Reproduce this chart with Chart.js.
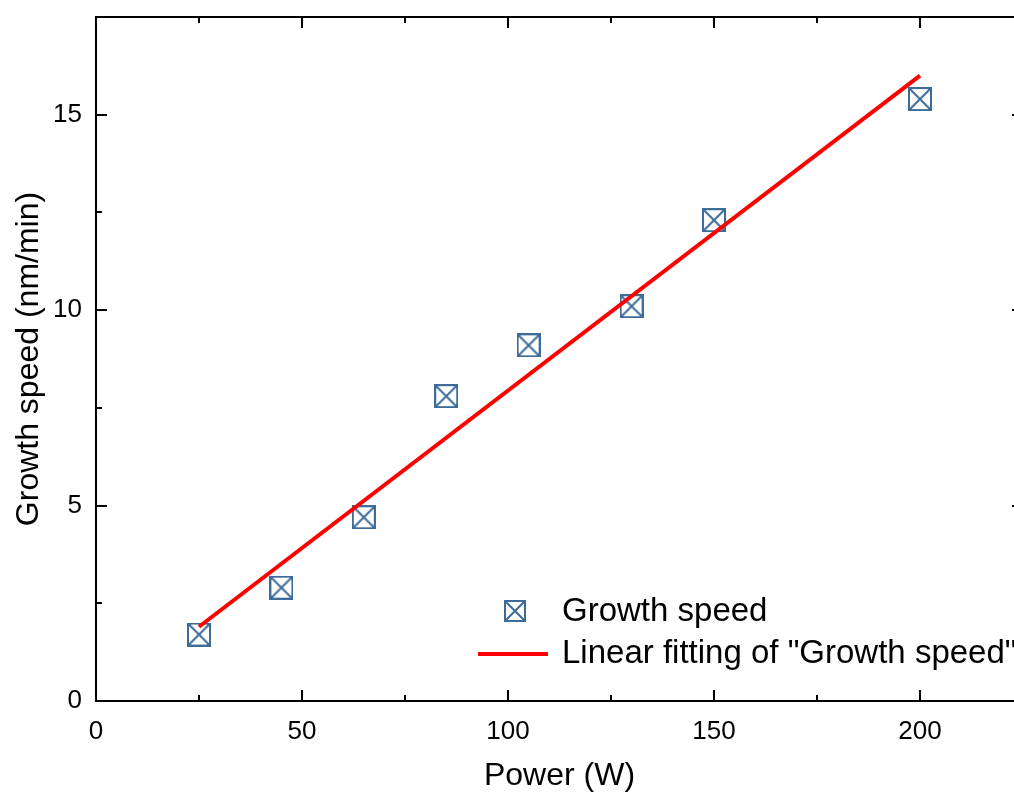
<!DOCTYPE html>
<html>
<head>
<meta charset="utf-8">
<script src="https://cdn.jsdelivr.net/npm/chart.js@4/dist/chart.umd.min.js"></script>
<style>
  html, body { margin: 0; padding: 0; background: #fff; overflow: hidden; }
  canvas { display: block; }
</style>
</head>
<body>
<canvas id="chart" width="1030" height="796"></canvas>
<script>
// growth speed vs power

const power = [25, 45, 65, 85, 105, 130, 150, 200];
const speed = [1.7, 2.9, 4.7, 7.8, 9.1, 10.1, 12.3, 15.4];
// fitted line end points
const fitX = [25, 200];
const fitY = [1.9, 16.0];
const xTicks = [0, 50, 100, 150, 200];
const yTicks = [0, 5, 10, 15];
const seriesLabel = 'Growth speed';
const fitLabel = 'Linear fitting of "Growth speed"';

const blue = '#3d6c99';
const red = '#ff0000';
const FONT = '"Liberation Sans", Arial, sans-serif';

// crossed square marker
function crossBox(size, lw) {
  const c = document.createElement('canvas');
  c.width = size; c.height = size;
  const g = c.getContext('2d');
  g.strokeStyle = blue;
  g.lineWidth = lw;
  const a = lw / 2, b = size - lw / 2;
  g.strokeRect(a, a, b - a, b - a);
  g.beginPath();
  g.moveTo(a, a); g.lineTo(b, b);
  g.moveTo(b, a); g.lineTo(a, b);
  g.stroke();
  return c;
}
const marker = crossBox(24, 2);
const legendMarker = crossBox(22, 2);

const scatterPts = power.map((p, i) => ({x: p, y: speed[i]}));
const fitPts = fitX.map((p, i) => ({x: p, y: fitY[i]}));

// inward ticks on all four sides + top/right frame + legend
const frame = {
  id: 'frame',
  afterDraw(chart) {
    const ctx = chart.ctx;
    const a = chart.chartArea;
    const xs = chart.scales.x, ys = chart.scales.y;
    ctx.save();
    ctx.strokeStyle = '#000';
    ctx.lineWidth = 2;
    ctx.beginPath();
    ctx.moveTo(a.left - 1, a.top);
    ctx.lineTo(a.right, a.top);
    ctx.lineTo(a.right, a.bottom);
    ctx.stroke();
    ctx.beginPath();
    for (let v = xs.min; v <= xs.max + 1e-9; v += 25) {
      const px = Math.round(xs.getPixelForValue(v));
      const len = (v % 50 === 0) ? 11 : 6;
      ctx.moveTo(px, a.bottom); ctx.lineTo(px, a.bottom - len);
      ctx.moveTo(px, a.top); ctx.lineTo(px, a.top + len);
    }
    for (let v = ys.min; v <= ys.max + 1e-9; v += 2.5) {
      const py = Math.round(ys.getPixelForValue(v));
      const len = (v % 5 === 0) ? 11 : 6;
      ctx.moveTo(a.left, py); ctx.lineTo(a.left + len, py);
      ctx.moveTo(a.right, py); ctx.lineTo(a.right - len, py);
    }
    ctx.stroke();

    // legend
    const ds = chart.data.datasets;
    ctx.font = '33px ' + FONT;
    ctx.fillStyle = '#000';
    ctx.textBaseline = 'middle';
    ctx.drawImage(legendMarker, 504, 600);
    ctx.fillText(ds[1].label, 562, 612);
    ctx.strokeStyle = red;
    ctx.lineWidth = 4;
    ctx.beginPath();
    ctx.moveTo(478, 654); ctx.lineTo(548, 654);
    ctx.stroke();
    ctx.fillText(ds[0].label, 562, 654);
    ctx.restore();
  }
};

const ctx = document.getElementById('chart').getContext('2d');
const myChart = new Chart(ctx, {
  type: 'scatter',
  data: {
    datasets: [{
      type: 'line',
      label: fitLabel,
      data: fitPts,
      borderColor: red,
      borderWidth: 4,
      pointRadius: 0,
      order: 0
    }, {
      label: seriesLabel,
      data: scatterPts,
      pointStyle: marker,
      pointRadius: 12,
      order: 1
    }]
  },
  options: {
    responsive: false,
    animation: false,
    layout: { autoPadding: false, padding: { top: 17, right: 7, bottom: 0, left: 0 } },
    plugins: { legend: { display: false }, tooltip: { enabled: false } },
    scales: {
      x: {
        type: 'linear',
        min: 0, max: 225,
        afterBuildTicks: s => { s.ticks = xTicks.map(v => ({value: v})); },
        afterFit: s => { s.height = 95; s.paddingLeft = 0; s.paddingRight = 0; },
        grid: { display: false, drawTicks: false },
        border: { display: true, color: '#000', width: 2 },
        ticks: { color: '#000', padding: 15, font: { family: FONT, size: 26 } },
        title: {
          display: true, text: 'Power (W)', color: '#000',
          font: { family: FONT, size: 32 }, padding: { top: 0, bottom: 1 }
        }
      },
      y: {
        type: 'linear',
        min: 0, max: 17.5,
        afterBuildTicks: s => { s.ticks = yTicks.map(v => ({value: v})); },
        afterFit: s => { s.width = 96; s.paddingTop = 0; s.paddingBottom = 0; },
        grid: { display: false, drawTicks: false },
        border: { display: true, color: '#000', width: 2 },
        ticks: { color: '#000', padding: 14, font: { family: FONT, size: 26 } },
        title: {
          display: true, text: 'Growth speed (nm/min)', color: '#000',
          font: { family: FONT, size: 32 }, padding: { top: 10, bottom: 0 }
        }
      }
    }
  },
  plugins: [frame]
});
</script>
</body>
</html>
